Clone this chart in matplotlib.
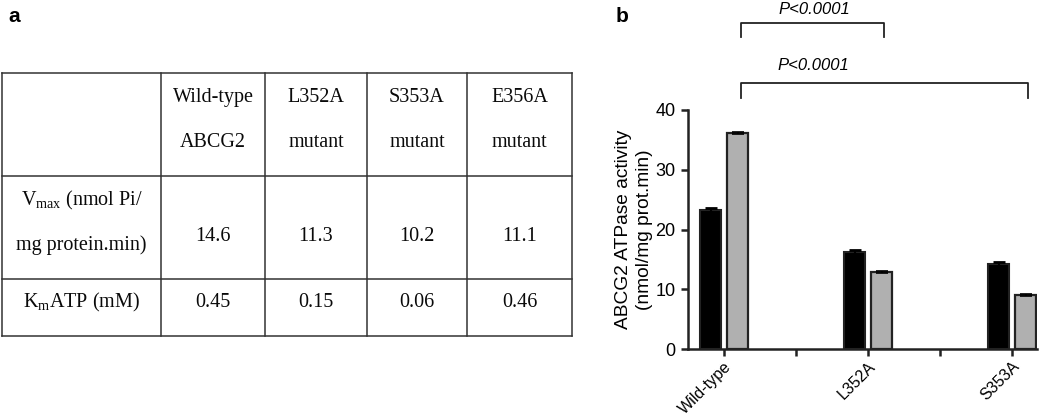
import matplotlib
matplotlib.use('Agg')
import matplotlib.pyplot as plt

# ---------------- Panel a: table content ----------------
col_headers = [["Wild-type", "ABCG2"], ["L352A", "mutant"], ["S353A", "mutant"], ["E356A", "mutant"]]
vmax_row_label = [r"V$_{\mathrm{max}}$ (nmol Pi/", "mg protein.min)"]
km_row_label = r"K$_{\mathrm{m}}$ATP (mM)"
vmax_values = ["14.6", "11.3", "10.2", "11.1"]
km_values = ["0.45", "0.15", "0.06", "0.46"]

# ---------------- Panel b: bar chart data ----------------
tick_labels = ["Wild-type", "", "L352A", "", "S353A"]
group_index = [0, 2, 4]
basal = [23.2, 16.2, 14.2]
stimulated = [36.1, 12.9, 9.0]
basal_err = [0.4, 0.4, 0.4]
stimulated_err = [0.15, 0.15, 0.15]
p_labels = ["P<0.0001", "P<0.0001"]
comparisons = [(0, 2), (0, 4)]

plt.rcParams['mathtext.fontset'] = 'custom'
plt.rcParams['mathtext.rm'] = 'Liberation Serif'
plt.rcParams['mathtext.it'] = 'Liberation Serif:italic'

W, H = 1050, 417
fig = plt.figure(figsize=(W / 100, H / 100), dpi=100)

# ---- table drawn in pixel space ----
tax = fig.add_axes([0, 0, 1, 1], zorder=0)
tax.set_xlim(0, W)
tax.set_ylim(H, 0)
tax.axis('off')

col_edges = [2, 161, 265, 367, 467, 572]
row_edges = [73, 176, 279, 336]
lc = '#333333'
for x in col_edges:
    tax.plot([x, x], [row_edges[0], row_edges[-1]], color=lc, lw=1.1)
for y in row_edges:
    tax.plot([col_edges[0], col_edges[-1]], [y, y], color=lc, lw=1.1)

tfont = dict(family='Liberation Serif', fontsize=14.5, color='#0a0a0a', ha='center', va='baseline')
centers = [(col_edges[i] + col_edges[i + 1]) / 2 for i in range(len(col_edges) - 1)]
for j, hdr in enumerate(col_headers):
    tax.text(centers[j + 1], 102, hdr[0], **tfont)
    tax.text(centers[j + 1], 147, hdr[1], **tfont)
tax.text(centers[0], 205, vmax_row_label[0], **tfont)
tax.text(centers[0], 250, vmax_row_label[1], **tfont)
tax.text(centers[0], 307, km_row_label, **tfont)
for j in range(4):
    tax.text(centers[j + 1], 241, vmax_values[j], **tfont)
    tax.text(centers[j + 1], 307, km_values[j], **tfont)

tax.text(8, 22, "a", fontsize=15, fontweight='bold', family='Liberation Sans', ha='left', va='baseline')
tax.text(616, 22, "b", fontsize=15, fontweight='bold', family='Liberation Sans', ha='left', va='baseline')

# ---- bar chart ----
ax = fig.add_axes([688 / W, 1 - 349 / H, (1037 - 688) / W, (349 - 110) / H], zorder=2)
ax.patch.set_alpha(0)
off = 0.1875
bw = 0.29
xb = [g - off for g in group_index]
xs = [g + off for g in group_index]
ax.bar(xb, basal, width=bw, color='black', edgecolor='#222222', lw=1.5, zorder=3)
ax.bar(xs, stimulated, width=bw, color='#b0b0b0', edgecolor='#222222', lw=1.6, zorder=3)
ax.errorbar(xb, basal, yerr=basal_err, fmt='none', ecolor='black', capsize=4, elinewidth=1.5, capthick=2, zorder=4)
ax.errorbar(xs, stimulated, yerr=stimulated_err, fmt='none', ecolor='black', capsize=4, elinewidth=1.2, capthick=1.2, zorder=4)

ax.set_xlim(-0.5, 4.347)
ax.set_ylim(0, 40)
ax.set_yticks([0, 10, 20, 30, 40])
ax.set_xticks(range(len(tick_labels)))
ax.set_xticklabels(tick_labels, rotation=45, ha='right', va='top', rotation_mode='anchor',
                   family='Liberation Sans', fontsize=11.5)
for lab in ax.get_yticklabels():
    lab.set_family('Liberation Sans')
    lab.set_fontsize(13)
ax.tick_params(axis='both', direction='out', length=5, width=1.8, color='#222222')
ax.tick_params(axis='x', pad=2)
ax.tick_params(axis='y', pad=4)
for s in ['top', 'right']:
    ax.spines[s].set_visible(False)
for s in ['left', 'bottom']:
    ax.spines[s].set_linewidth(1.8)
    ax.spines[s].set_color('#222222')
ax.set_ylabel("ABCG2 ATPase activity\n(nmol/mg prot.min)", family='Liberation Sans', fontsize=13.8,
              labelpad=2, linespacing=1.25)

# significance brackets
bracket_y = [(54.6, 52.2), (44.5, 42.0)]
text_y = [56.9, 47.5]
text_x = [1.26, 1.24]
for (a, b), (ytop, yleg), ty, tx, lab in zip(comparisons, bracket_y, text_y, text_x, p_labels):
    x0 = a + off + 0.05
    x1 = b + off + 0.04
    ax.plot([x0, x0, x1, x1], [yleg, ytop, ytop, yleg], color='#222222', lw=1.3, clip_on=False)
    ax.text(tx, ty, lab, ha='center', va='center', style='italic', family='Liberation Sans', fontsize=12)

fig.savefig('out.png', dpi=100)
